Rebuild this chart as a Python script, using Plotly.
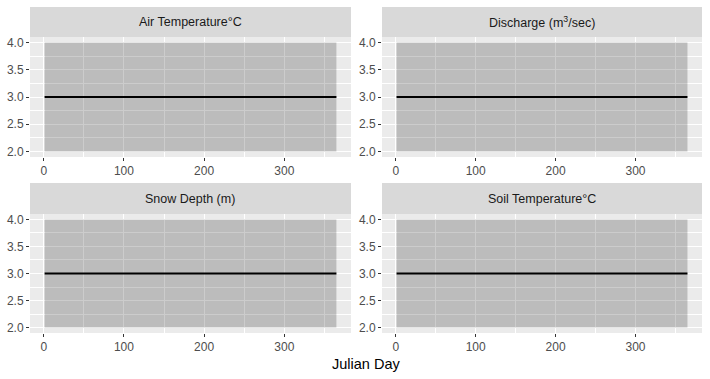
import plotly.graph_objects as go

# ---- data ----
facets = ["Air Temperature°C", "Discharge (m<sup>3</sup>/sec)", "Snow Depth (m)", "Soil Temperature°C"]
julian_day = [1, 365]
mean_val = [3, 3]
lower_val = [2, 2]
upper_val = [4, 4]
x_ticks = [0, 100, 200, 300]
y_ticks = [2.0, 2.5, 3.0, 3.5, 4.0]
y_tick_labels = ["2.0", "2.5", "3.0", "3.5", "4.0"]

W, H = 710, 379
FONT = "Liberation Sans, Arial, sans-serif"

# panel geometry in pixels (left, right) / (top, bottom)
cols = [(30, 351), (382, 702)]
rows = [(37, 157), (214, 333)]
strip_h = [30, 31]

fig = go.Figure()
shapes = []
annotations = []

for i, name in enumerate(facets):
    r, c = divmod(i, 2)
    ax = "" if i == 0 else str(i + 1)
    xa, ya = "x" + ax, "y" + ax
    # ribbon
    fig.add_trace(go.Scatter(x=julian_day, y=lower_val, mode="lines", line=dict(width=0),
                             xaxis=xa, yaxis=ya, showlegend=False, hoverinfo="skip"))
    fig.add_trace(go.Scatter(x=julian_day, y=upper_val, mode="lines", line=dict(width=0),
                             fill="tonexty", fillcolor="rgba(0,0,0,0.2)",
                             xaxis=xa, yaxis=ya, showlegend=False, hoverinfo="skip"))
    # mean line
    fig.add_trace(go.Scatter(x=julian_day, y=mean_val, mode="lines",
                             line=dict(color="black", width=2),
                             xaxis=xa, yaxis=ya, showlegend=False))
    x0, x1 = cols[c]
    y0, y1 = rows[r]
    xdom = [x0 / W, x1 / W]
    ydom = [(H - y1) / H, (H - y0) / H]
    fig.layout["xaxis" + ax] = dict(
        domain=xdom, anchor=ya, range=[-17.2, 383.2], automargin=False,
        tickmode="array", tickvals=x_ticks, ticktext=[str(t) for t in x_ticks],
        showgrid=True, gridcolor="white", gridwidth=1.1,
        minor=dict(tickmode="array", tickvals=[50, 150, 250, 350], showgrid=True,
                   gridcolor="white", gridwidth=0.55, ticklen=0),
        ticks="outside", ticklen=3, tickwidth=1, tickcolor="#333333",
        tickfont=dict(family=FONT, size=12, color="#4D4D4D"),
        zeroline=False, showline=False, fixedrange=True,
    )
    fig.layout["yaxis" + ax] = dict(
        domain=ydom, anchor=xa, range=[1.9, 4.1], automargin=False,
        tickmode="array", tickvals=y_ticks, ticktext=y_tick_labels,
        showgrid=True, gridcolor="white", gridwidth=1.1,
        minor=dict(tickmode="array", tickvals=[2.25, 2.75, 3.25, 3.75], showgrid=True,
                   gridcolor="white", gridwidth=0.55, ticklen=0),
        ticks="outside", ticklen=3, tickwidth=1, tickcolor="#333333",
        tickfont=dict(family=FONT, size=12, color="#4D4D4D"),
        zeroline=False, showline=False, fixedrange=True,
    )
    # strip
    sy1 = y0 - strip_h[r]
    shapes.append(dict(type="rect", xref="paper", yref="paper",
                       x0=xdom[0], x1=xdom[1], y0=(H - y0) / H, y1=(H - sy1) / H,
                       fillcolor="#D9D9D9", line=dict(width=0), layer="below"))
    annotations.append(dict(text=name, xref="paper", yref="paper",
                            x=(xdom[0] + xdom[1]) / 2, y=(H - (y0 + sy1) / 2) / H,
                            xanchor="center", yanchor="middle", showarrow=False,
                            font=dict(family=FONT, size=12.5, color="#1A1A1A")))

annotations.append(dict(text="Julian Day", xref="paper", yref="paper",
                        x=366 / W, y=(H - 364) / H, xanchor="center", yanchor="middle",
                        showarrow=False, font=dict(family=FONT, size=14.5, color="black")))

fig.update_layout(
    width=W, height=H, margin=dict(l=0, r=0, t=0, b=0, autoexpand=False),
    paper_bgcolor="white", plot_bgcolor="#EBEBEB",
    shapes=shapes, annotations=annotations, showlegend=False,
)

fig.write_html("out.html", config={"displayModeBar": False},
               post_script="document.body.style.margin='0';document.body.style.overflow='hidden';")
